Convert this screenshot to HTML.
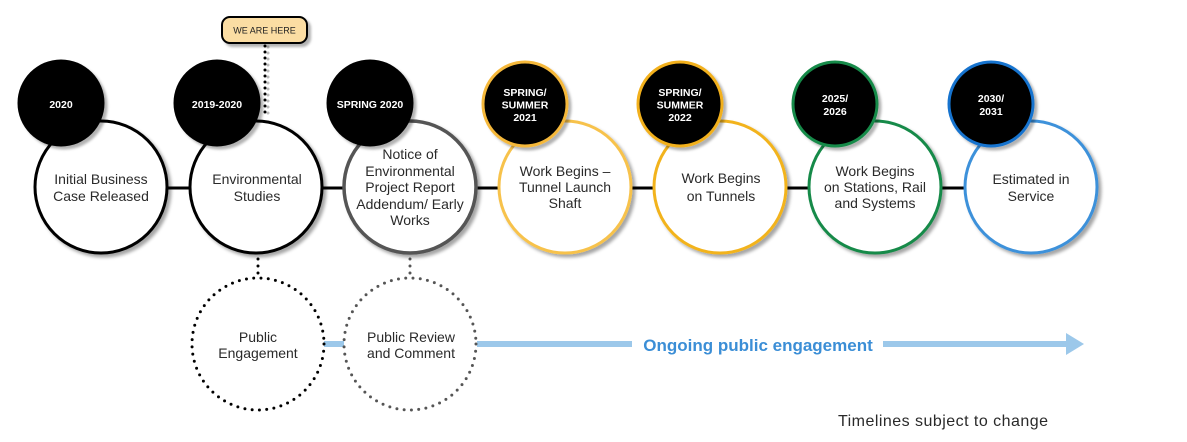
<!DOCTYPE html>
<html>
<head>
<meta charset="utf-8">
<style>
  html,body{margin:0;padding:0;background:#fff;}
  svg{display:block;}
  text{font-family:"Liberation Sans",sans-serif;}
</style>
</head>
<body>
<svg width="1187" height="442" viewBox="0 0 1187 442" xmlns="http://www.w3.org/2000/svg">
  <defs>
    <filter id="sh" x="-20%" y="-20%" width="150%" height="150%">
      <feDropShadow dx="3" dy="3" stdDeviation="1.6" flood-color="#000" flood-opacity="0.35"/>
    </filter>
    <filter id="shs" x="-50%" y="-50%" width="200%" height="200%">
      <feDropShadow dx="3" dy="3" stdDeviation="1.2" flood-color="#000" flood-opacity="0.3"/>
    </filter>
  </defs>

  <!-- main connector line -->
  <line x1="101" y1="188" x2="1031" y2="188" stroke="#000" stroke-width="3"/>

  <!-- WE ARE HERE dotted connector -->
  <line x1="268" y1="47" x2="268" y2="116" stroke="#bbb" stroke-width="3" stroke-dasharray="0 6" stroke-linecap="round"/>
  <line x1="265" y1="46" x2="265" y2="115" stroke="#000" stroke-width="3" stroke-dasharray="0 6" stroke-linecap="round"/>

  <!-- dotted connectors down -->
  <line x1="258" y1="259" x2="258" y2="276" stroke="#000" stroke-width="3" stroke-dasharray="0 7" stroke-linecap="round"/>
  <line x1="410" y1="259" x2="410" y2="276" stroke="#555" stroke-width="3" stroke-dasharray="0 7" stroke-linecap="round"/>

  <!-- blue engagement line -->
  <line x1="324" y1="344" x2="344" y2="344" stroke="#9CC8EA" stroke-width="6"/>
  <line x1="477" y1="344" x2="632" y2="344" stroke="#9CC8EA" stroke-width="6"/>
  <line x1="883" y1="344" x2="1068" y2="344" stroke="#9CC8EA" stroke-width="6"/>
  <polygon points="1066,333 1084,344 1066,355" fill="#9CC8EA"/>
  <text x="758" y="351" text-anchor="middle" font-size="17" font-weight="bold" fill="#3B8ED6">Ongoing public engagement</text>

  <!-- big circles -->
  <g filter="url(#sh)">
    <circle cx="101" cy="187" r="66" fill="#fff" stroke="#000" stroke-width="3"/>
    <circle cx="256" cy="187" r="66" fill="#fff" stroke="#000" stroke-width="3"/>
    <circle cx="410" cy="187" r="66" fill="#fff" stroke="#555" stroke-width="3.5"/>
    <circle cx="565" cy="187" r="66" fill="#fff" stroke="#F7C24C" stroke-width="3"/>
    <circle cx="720" cy="187" r="66" fill="#fff" stroke="#F2B31E" stroke-width="3"/>
    <circle cx="875" cy="187" r="66" fill="#fff" stroke="#178A48" stroke-width="3"/>
    <circle cx="1031" cy="187" r="66" fill="#fff" stroke="#3D91DA" stroke-width="3"/>
  </g>

  <!-- small circles -->
  <g filter="url(#shs)">
    <circle cx="61" cy="103" r="43.5" fill="#000"/>
    <circle cx="217" cy="103" r="43.5" fill="#000"/>
    <circle cx="370" cy="103" r="43.5" fill="#000"/>
    <circle cx="525" cy="104" r="42" fill="#000" stroke="#F5B83A" stroke-width="3"/>
    <circle cx="680" cy="104" r="42" fill="#000" stroke="#F2B01C" stroke-width="3"/>
    <circle cx="835" cy="104" r="42" fill="#000" stroke="#178A48" stroke-width="3"/>
    <circle cx="991" cy="104" r="42" fill="#000" stroke="#1673CE" stroke-width="3"/>
  </g>

  <!-- WE ARE HERE box -->
  <rect x="222" y="17" width="85" height="26" rx="8" ry="8" fill="#FBDDA3" stroke="#000" stroke-width="2" filter="url(#shs)"/>
  <text x="264.5" y="33.5" text-anchor="middle" font-size="9" fill="#222">WE ARE HERE</text>

  <!-- small circle texts -->
  <g fill="#fff" font-size="10.5" font-weight="bold" text-anchor="middle">
    <text x="61" y="108">2020</text>
    <text x="217" y="108">2019-2020</text>
    <text x="370" y="108">SPRING 2020</text>
    <text x="525" y="96">SPRING/</text>
    <text x="525" y="108.5">SUMMER</text>
    <text x="525" y="121">2021</text>
    <text x="680" y="96">SPRING/</text>
    <text x="680" y="108.5">SUMMER</text>
    <text x="680" y="121">2022</text>
    <text x="835" y="102">2025/</text>
    <text x="835" y="115">2026</text>
    <text x="991" y="102">2030/</text>
    <text x="991" y="115">2031</text>
  </g>

  <!-- big circle texts -->
  <g fill="#2a2a2a" font-size="14" text-anchor="middle">
    <text x="101" y="184">Initial Business</text>
    <text x="101" y="201">Case Released</text>
    <text x="257" y="184">Environmental</text>
    <text x="257" y="201">Studies</text>
    <text x="410" y="159">Notice of</text>
    <text x="410" y="176">Environmental</text>
    <text x="410" y="192">Project Report</text>
    <text x="410" y="209">Addendum/ Early</text>
    <text x="410" y="225">Works</text>
    <text x="565" y="176">Work Begins –</text>
    <text x="565" y="192">Tunnel Launch</text>
    <text x="565" y="208">Shaft</text>
    <text x="721" y="183">Work Begins</text>
    <text x="721" y="201">on Tunnels</text>
    <text x="875" y="176">Work Begins</text>
    <text x="875" y="192">on Stations, Rail</text>
    <text x="875" y="208">and Systems</text>
    <text x="1031" y="184">Estimated in</text>
    <text x="1031" y="201">Service</text>
  </g>

  <!-- dotted circles -->
  <circle cx="258" cy="344" r="66" fill="none" stroke="#000" stroke-width="3" stroke-dasharray="0 7.3" stroke-linecap="round"/>
  <circle cx="410" cy="344" r="66" fill="none" stroke="#555" stroke-width="3" stroke-dasharray="0 7.3" stroke-linecap="round"/>
  <g fill="#2a2a2a" font-size="14" text-anchor="middle">
    <text x="258" y="342">Public</text>
    <text x="258" y="358">Engagement</text>
    <text x="411" y="342">Public Review</text>
    <text x="411" y="358">and Comment</text>
  </g>

  <text x="838" y="426" font-size="16" fill="#2a2a2a" textLength="210" lengthAdjust="spacing">Timelines subject to change</text>
</svg>
</body>
</html>
